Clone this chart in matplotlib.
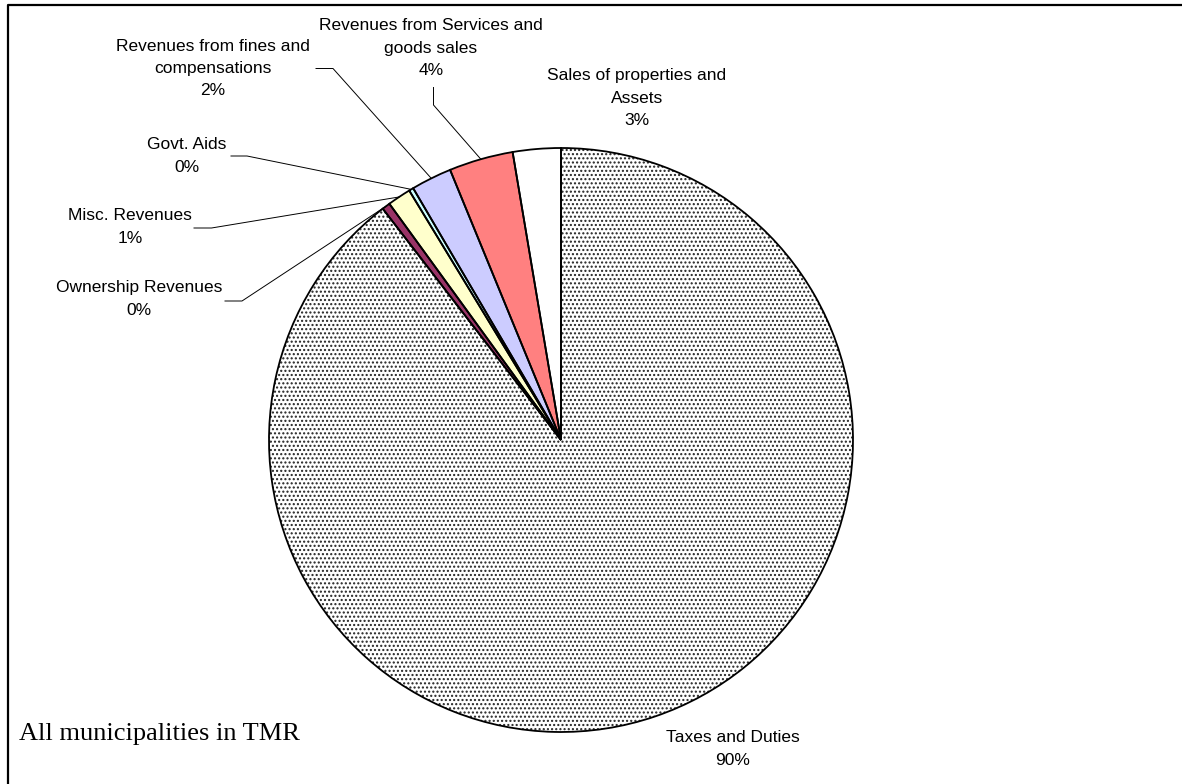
import numpy as np
import matplotlib.pyplot as plt

# revenue categories, in the order the slices run clockwise from 12 o'clock
categories = ['Taxes and Duties', 'Ownership Revenues', 'Misc. Revenues', 'Govt. Aids',
              'Revenues from fines and\ncompensations',
              'Revenues from Services and\ngoods sales',
              'Sales of properties and\nAssets']
shares = [89.55, 0.45, 1.3, 0.25, 2.25, 3.55, 2.65]
colors = ['white', '#993366', '#FFFFCC', '#CCFFFF', '#CCCCFF', '#FF8080', 'white']
hatches = ['....', '', '', '', '', '', '']

W, H = 1182, 784
fig = plt.figure(figsize=(W / 100, H / 100), dpi=100)
ax = fig.add_axes([0, 0, 1, 1])

cx, cy, r = 561, H - 440, 292

# first pass: fills + dotted pattern (hatch colour follows edgecolor)
wedges, _ = ax.pie(shares, colors=colors, startangle=90, counterclock=False,
                   center=(cx, cy), radius=r,
                   wedgeprops=dict(linewidth=0, edgecolor='#222222'))
for w, h in zip(wedges, hatches):
    w.set_hatch(h)
# second pass: black outlines
ax.pie(shares, colors=['none'] * len(shares), startangle=90, counterclock=False,
       center=(cx, cy), radius=r,
       wedgeprops=dict(linewidth=1.3, edgecolor='black'))

total = sum(shares)
pct = [int(s / total * 100 + 0.5) for s in shares]

# label layout (pixel positions, y measured from top)
label_pos = [(733, 749), (139, 299), (130, 227), (187, 156),
             (212.5, 68.5), (431, 48), (637, 98)]
leader = [None,
          [(225, 301), (242, 301)],
          [(194, 228), (211.5, 228)],
          [(231, 156), (247, 156)],
          [(316, 68.5), (333, 68.5)],
          [(433.5, 87.5), (433.5, 105)],
          None]

for i, w in enumerate(wedges):
    x, y = label_pos[i]
    ax.text(x, H - y, f'{categories[i]}\n{pct[i]}%', ha='center', va='center',
            fontsize=12.5, family='Liberation Sans', linespacing=1.62)
    if leader[i] is not None:
        mid = np.deg2rad((w.theta1 + w.theta2) / 2)
        px = [p[0] for p in leader[i]] + [cx + r * np.cos(mid)]
        py = [H - p[1] for p in leader[i]] + [cy + r * np.sin(mid)]
        ax.plot(px, py, color='black', lw=0.7)

ax.text(19, H - 740, 'All municipalities in TMR', ha='left', va='baseline',
        fontsize=19, family='Liberation Serif')

# chart border (only top and left edges fall inside the picture)
ax.plot([8, 8, W + 10], [-10, H - 5, H - 5], color='black', lw=1.6)

ax.set_xlim(0, W)
ax.set_ylim(0, H)
ax.set_aspect('equal')
ax.axis('off')

fig.savefig('out.png', dpi=100)
